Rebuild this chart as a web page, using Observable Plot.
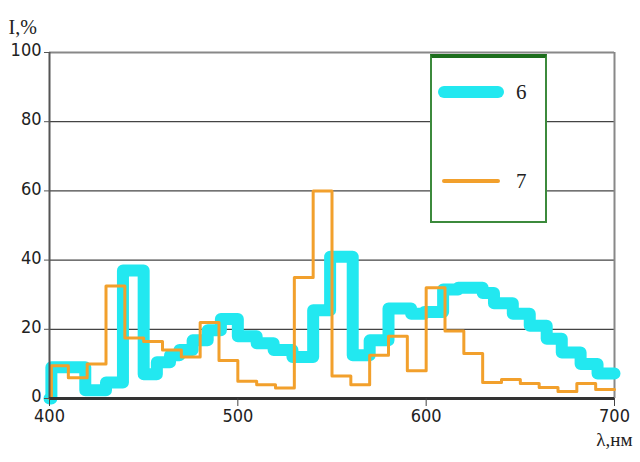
<!DOCTYPE html>
<html>
<head>
<meta charset="utf-8">
<script src="https://cdn.jsdelivr.net/npm/d3@7"></script>
<script src="https://cdn.jsdelivr.net/npm/@observablehq/plot@0.6"></script>
<style>
  html, body { margin: 0; padding: 0; background: #fff; }
  #wrap { position: relative; width: 640px; height: 462px; overflow: hidden; }
  #legend { position: absolute; left: 430px; top: 54px; width: 113px; height: 163px;
            border: 2px solid #3c8a3c; border-top: 4px solid #1e6e1e; background: #fff; }
  #legend svg { position: absolute; left: 0; top: 0; }
</style>
</head>
<body>
<div id="wrap"></div>
<script>
// Series 6 (cyan): step start wavelengths (nm) and intensities (%)
const cyanWl  = [400, 401, 419, 430, 439, 450, 457, 464, 469, 476, 484, 491, 500, 510, 519, 529, 540, 549, 561, 570, 580, 592, 599, 609, 617, 630, 636, 646, 655, 664, 672, 682, 691, 700];
const cyanVal = [0,   9,   2.4, 4.6, 37,  7,   10.5, 12.5, 14, 16.8, 19.7, 23, 18,  16,  14,  12,  25.5, 41, 12.5, 16.8, 26, 24.5, 25,  31.5, 32, 30.5, 27.5, 24.5, 21, 17.3, 13.3, 10, 7.2, 7.2];

// Series 7 (orange)
const orangeWl  = [400, 401, 410, 420, 430, 440, 450, 460, 470, 480, 490, 500, 510, 520, 530, 540, 550, 560, 570, 580, 590, 600, 610, 620, 630, 640, 650, 660, 670, 680, 690, 700];
const orangeVal = [0,   9.5, 6,   10,  32.5, 17.5, 16.5, 14, 12,  22,  11,  5,   4,   3,   35,  60,  6.5, 4,   12.5, 18, 8,   32,  19.5, 13,  4.6, 5.5, 4.3, 3.2, 2,   4.3, 2.6, 2.6];

const yTicks = [0, 20, 40, 60, 80, 100];
const xTicks = [400, 500, 600, 700];
const gridY = [20, 40, 60, 80];
const seriesNames = ["6", "7"];
const yLabel = "I,%";
const xLabel = "λ,нм";

const cyan = cyanWl.map((x, i) => ({x, y: cyanVal[i]}));
const orange = orangeWl.map((x, i) => ({x, y: orangeVal[i]}));

const CYAN = "#22e8f0";
const ORANGE = "#f2a02c";

const chart = Plot.plot({
  width: 640,
  height: 462,
  marginLeft: 49,
  marginRight: 26,
  marginTop: 52,
  marginBottom: 64,
  style: {fontFamily: "'DejaVu Sans Condensed', 'DejaVu Sans', sans-serif", fontSize: "18px", color: "#222", background: "#fff"},
  x: {domain: [400, 700]},
  y: {domain: [0, 100]},
  marks: [
    Plot.ruleY(gridY, {stroke: "#444", strokeWidth: 1.3}),
    Plot.ruleY([100], {stroke: "#888", strokeWidth: 2}),
    Plot.ruleX([700], {stroke: "#888", strokeWidth: 2}),
    Plot.line(cyan, {x: "x", y: "y", curve: "step-after", stroke: CYAN, strokeWidth: 12, strokeLinejoin: "round", strokeLinecap: "round"}),
    Plot.line(orange, {x: "x", y: "y", curve: "step-after", stroke: ORANGE, strokeWidth: 3}),
    Plot.ruleX([400], {stroke: "#555", strokeWidth: 2}),
    Plot.ruleY([0], {stroke: "#333", strokeWidth: 3}),
    Plot.axisY({ticks: yTicks, tickSize: 5, text: null, label: null, stroke: "#555"}),
    Plot.axisY({ticks: yTicks, tickSize: 0, tickPadding: 8, dy: -2, label: null, fill: "#222"}),
    Plot.axisX({ticks: xTicks, tickSize: 8, tickPadding: 3, label: null, stroke: "#444", fill: "#222"}),
    Plot.text([yLabel], {frameAnchor: "top-left", dx: -41, dy: -33, textAnchor: "start", fontFamily: "'Liberation Serif', serif", fontSize: 20, fill: "#222"}),
    Plot.text([xLabel], {frameAnchor: "bottom-right", dx: 18, dy: 47, textAnchor: "end", fontFamily: "'Liberation Serif', serif", fontSize: 19, fill: "#222"})
  ]
});

const wrap = document.getElementById("wrap");
wrap.appendChild(chart);

// Legend (HTML overlay)
const legend = document.createElement("div");
legend.id = "legend";
const ns = "http://www.w3.org/2000/svg";
const lsvg = document.createElementNS(ns, "svg");
lsvg.setAttribute("width", "113");
lsvg.setAttribute("height", "163");
const entries = [
  {name: seriesNames[0], color: CYAN, w: 12, y: 34},
  {name: seriesNames[1], color: ORANGE, w: 4, y: 123}
];
for (const e of entries) {
  const l = document.createElementNS(ns, "line");
  l.setAttribute("x1", "12"); l.setAttribute("x2", "66");
  l.setAttribute("y1", e.y); l.setAttribute("y2", e.y);
  l.setAttribute("stroke", e.color);
  l.setAttribute("stroke-width", e.w);
  l.setAttribute("stroke-linecap", "round");
  lsvg.appendChild(l);
  const t = document.createElementNS(ns, "text");
  t.setAttribute("x", "84"); t.setAttribute("y", e.y + 7);
  t.setAttribute("font-family", "'Liberation Serif', serif");
  t.setAttribute("font-size", "21");
  t.setAttribute("fill", "#222");
  t.textContent = e.name;
  lsvg.appendChild(t);
}
legend.appendChild(lsvg);
wrap.appendChild(legend);
</script>
</body>
</html>
